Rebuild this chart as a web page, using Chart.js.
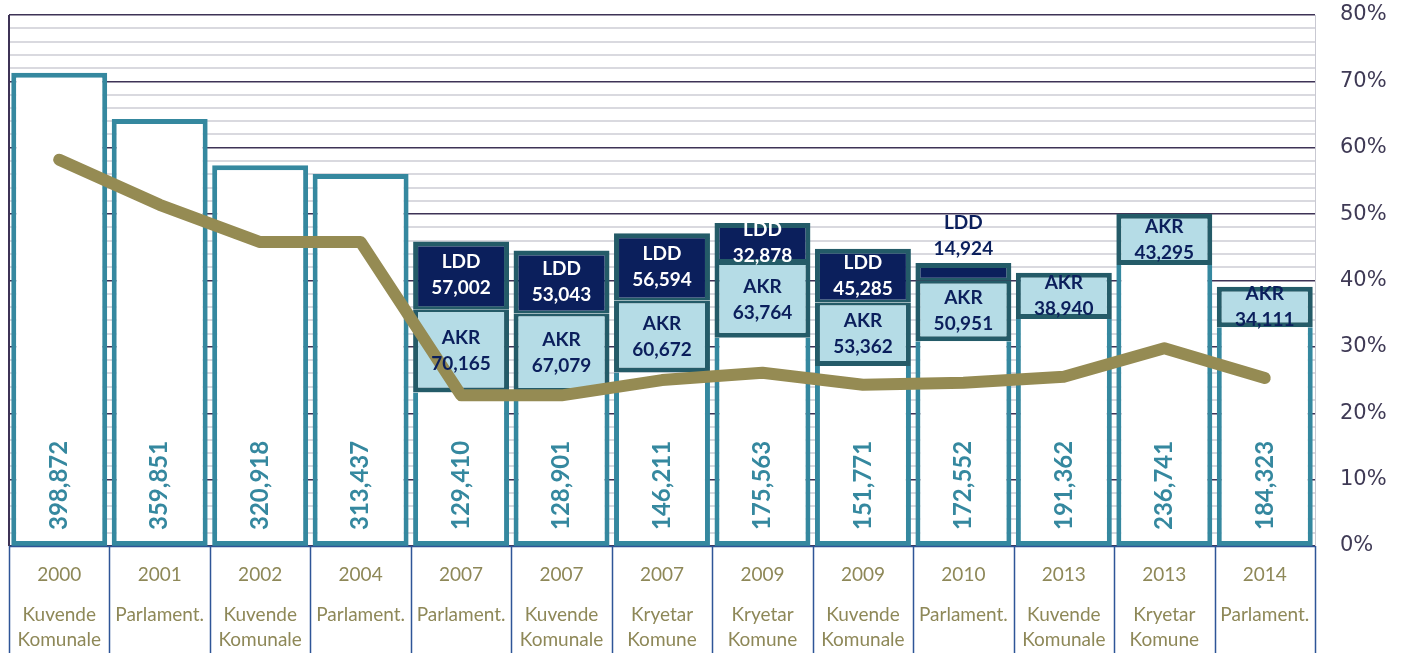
<!DOCTYPE html>
<html>
<head>
<meta charset="utf-8">
<script src="https://cdn.jsdelivr.net/npm/chart.js@4/dist/chart.umd.min.js"></script>
<style>
html,body{margin:0;padding:0;background:#fff;}
#wrap{width:1402px;height:653px;position:relative;}
</style>
</head>
<body>
<div id="wrap"><canvas id="c"></canvas></div>
<script>
const years = ['2000','2001','2002','2004','2007','2007','2007','2009','2009','2010','2013','2013','2014'];
const electionTypes = [['Kuvende','Komunale'],['Parlament.'],['Kuvende','Komunale'],['Parlament.'],['Parlament.'],['Kuvende','Komunale'],['Kryetar','Komune'],['Kryetar','Komune'],['Kuvende','Komunale'],['Parlament.'],['Kuvende','Komunale'],['Kryetar','Komune'],['Parlament.']];
const baseVotes = [398872,359851,320918,313437,129410,128901,146211,175563,151771,172552,191362,236741,184323];
const akrVotes = [null,null,null,null,70165,67079,60672,63764,53362,50951,38940,43295,34111];
const lddVotes = [null,null,null,null,57002,53043,56594,32878,45285,14924,null,null,null];
const turnoutPct = [58.2,51.4,45.8,45.8,22.7,22.7,25.0,26.1,24.3,24.6,25.5,29.8,25.3];
const pctMax = 80;
const votesMax = 447500;

const TEAL = '#35889F', DARKTEAL = '#245B68', NAVY = '#0B1F5C', LIGHT = '#B5DCE6', OLIVE = '#958B53';

const fmt = v => v.toLocaleString('en-US');

const labelPlugin = {
  id: 'labels',
  beforeDatasetsDraw(chart) {
    const ctx = chart.ctx, a = chart.chartArea;
    ctx.save();
    ctx.strokeStyle = '#3E3356';
    ctx.lineWidth = 2;
    ctx.beginPath();
    ctx.moveTo(a.left, a.top); ctx.lineTo(a.left, a.bottom);
    ctx.stroke();
    ctx.restore();
  },
  afterDatasetsDraw(chart) {
    const ctx = chart.ctx, a = chart.chartArea;
    const m0 = chart.getDatasetMeta(1);
    ctx.save();
    m0.data.forEach((el, i) => {
      ctx.save();
      ctx.translate(el.x, el.base - 16);
      ctx.rotate(-Math.PI / 2);
      ctx.font = 'bold 24px Lato';
      ctx.fillStyle = TEAL;
      ctx.textAlign = 'left';
      ctx.textBaseline = 'middle';
      ctx.fillText(fmt(baseVotes[i]), 0, 0);
      ctx.restore();
    });
    const segs = [[2, 'AKR', akrVotes, NAVY], [3, 'LDD', lddVotes, '#FFFFFF']];
    segs.forEach(([di, name, arr, col]) => {
      const meta = chart.getDatasetMeta(di);
      meta.data.forEach((el, i) => {
        if (arr[i] == null) return;
        const h = el.base - el.y;
        let cy = (el.y + el.base) / 2, c = col;
        if (h < 28) { cy = el.y - 27; c = NAVY; }
        ctx.font = 'bold 19px Lato';
        ctx.fillStyle = c;
        ctx.textAlign = 'center';
        ctx.textBaseline = 'middle';
        ctx.fillText(name, el.x, cy - 13);
        ctx.fillText(fmt(arr[i]), el.x, cy + 13);
      });
    });
    const xs = chart.scales.x;
    const w = (a.right - a.left) / years.length;
    ctx.strokeStyle = '#2E5597';
    ctx.lineWidth = 1.5;
    ctx.beginPath();
    ctx.moveTo(a.left, a.bottom + 0.5); ctx.lineTo(a.right, a.bottom + 0.5);
    for (let i = 0; i <= years.length; i++) {
      const x = Math.round(a.left + i * w) + 0.5;
      ctx.moveTo(x, a.bottom); ctx.lineTo(x, chart.height);
    }
    ctx.stroke();
    ctx.fillStyle = '#8E8858';
    ctx.textAlign = 'center';
    ctx.textBaseline = 'middle';
    years.forEach((y, i) => {
      const x = xs.getPixelForValue(i);
      ctx.font = '19px Lato';
      ctx.fillText(y, x, a.bottom + 29);
      electionTypes[i].forEach((t, j) => ctx.fillText(t, x, a.bottom + 69 + j * 25));
    });
    ctx.restore();
  }
};

new Chart(document.getElementById('c'), {
  data: {
    labels: years,
    datasets: [
      {
        type: 'line', label: 'Pjesëmarrja', data: turnoutPct, yAxisID: 'y1', order: 0,
        borderColor: OLIVE, borderWidth: 12, pointRadius: 0, tension: 0,
        borderCapStyle: 'round', borderJoinStyle: 'round', fill: false
      },
      {
        type: 'bar', label: 'Base', data: baseVotes, yAxisID: 'y', order: 1, stack: 's',
        backgroundColor: '#FFFFFF', borderColor: TEAL, borderSkipped: false,
        borderWidth: ctx => ({ left: 5, right: 5, bottom: 5, top: akrVotes[ctx.dataIndex] == null ? 5 : 0 })
      },
      {
        type: 'bar', label: 'AKR', data: akrVotes, yAxisID: 'y', order: 1, stack: 's',
        backgroundColor: LIGHT, borderColor: DARKTEAL, borderSkipped: false,
        borderWidth: ctx => ({ left: 5, right: 5, bottom: 5, top: lddVotes[ctx.dataIndex] == null ? 5 : 3 })
      },
      {
        type: 'bar', label: 'LDD', data: lddVotes, yAxisID: 'y', order: 1, stack: 's',
        backgroundColor: NAVY, borderColor: DARKTEAL, borderSkipped: false,
        borderWidth: { left: 5, right: 5, bottom: 3, top: 5 }
      }
    ]
  },
  options: {
    responsive: true, maintainAspectRatio: false, animation: false,
    layout: { padding: { left: 9, top: 15, bottom: 107, right: 0 } },
    datasets: { bar: { barPercentage: 0.955, categoryPercentage: 1 } },
    plugins: { legend: { display: false }, tooltip: { enabled: false } },
    scales: {
      x: { display: false, stacked: true, offset: true },
      y: { display: false, stacked: true, min: 0, max: votesMax },
      y1: {
        position: 'right', min: 0, max: pctMax,
        afterFit: s => { s.width = 87; s.paddingTop = 0; s.paddingBottom = 0; },
        border: { display: true, color: '#C9C9D2', width: 1 },
        grid: {
          drawTicks: false,
          color: c => (c.tick && c.tick.value % 10 === 0) ? '#3E3356' : '#D9D9DF',
          lineWidth: c => (c.tick && c.tick.value % 10 === 0) ? 1.5 : 2
        },
        ticks: {
          stepSize: 2, autoSkip: false, padding: 25,
          color: '#3F3A55', font: { family: 'DejaVu Sans', size: 21 },
          callback: v => v % 10 === 0 ? v + '%' : ''
        }
      }
    }
  },
  plugins: [labelPlugin]
});
</script>
</body>
</html>
